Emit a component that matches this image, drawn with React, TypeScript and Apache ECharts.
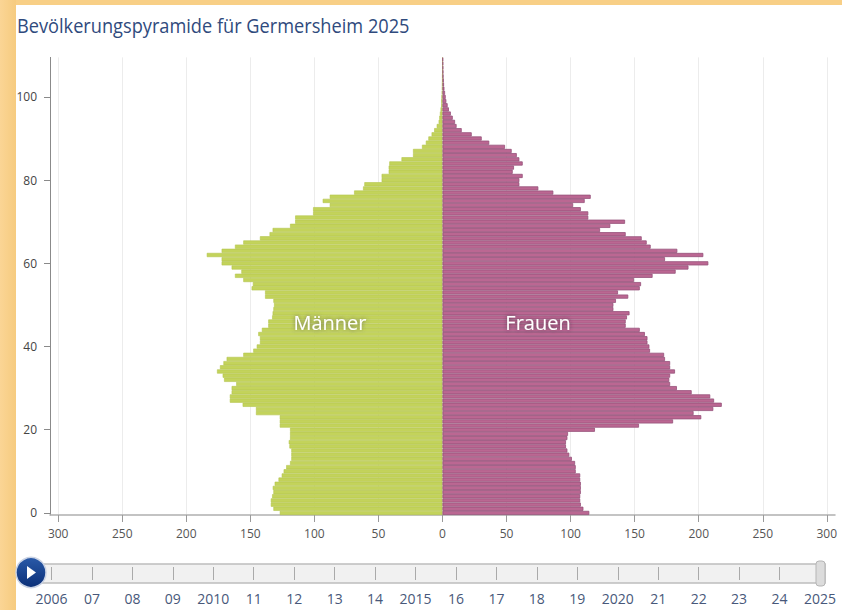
import React, { useEffect, useRef } from "react";
import * as echarts from "echarts";

const title = "Bevölkerungspyramide für Germersheim 2025";
const years = ["2006","07","08","09","2010","11","12","13","14","2015","16","17","18","19","2020","21","22","23","24","2025"];
const xTicks = [-300,-250,-200,-150,-100,-50,0,50,100,150,200,250,300];

// Ages 0..109
const men = [127,132,134,134,133,132,132.5,131,128,125.5,124,122,119,118,118,118,119.5,120,119,119,
  119,127,127,127,145.6,145.6,156,166,166,164.6,164.6,161,170.5,171.6,176,173.7,171,168.5,155.5,147.7,
  145,142.5,142.5,143.8,141,136,136,133,132.6,132,131.5,132,138.5,138.5,149,148,155.5,162,157,164.6,
  172.4,172.4,184,172.4,162,155.5,142.5,135,132.6,119,115,115,101,101,88,93.5,88,69,62,61,
  47.5,47.5,42,42,41.5,32,23,23,16,13,11,8.5,6.5,4.5,3,2.5,2,1.5,1,1,
  0.8,0.5,0.3,0.2,0.1,0.1,0,0,0,0];
const women = [114.6,110,108,107.5,107.5,108,108,108,107.5,107.5,104,104,103.5,101,99,97.5,96.4,96.4,97.5,98,
  119,153.4,180,202,196,211.4,218,212,209,194.5,183,177.7,177,177.7,181.5,177.7,177.7,173.7,173,162,
  161.5,160,160,158,154,143,143,144,146,133.4,133.4,135.4,145,137,154,155,149.5,164,182,192,
  207.5,173.7,203.6,183.3,162.5,159.4,155.5,143,123,131,142.5,113.8,113.8,108,102,111,115.7,86.5,74.8,60,
  60,62.6,54.8,55.8,62.6,60,58,54,48.8,36.5,30.6,22.8,15,11,9.8,8,6.5,5,4,3,
  2.5,2,1.5,1.2,1,0.8,0.7,0.6,0.5,0.4];
const ages = men.map((_, i) => String(i));

const axisText = "#555";
const tickLine = "#9a9a9a";

export default function App() {
  const ref = useRef<HTMLDivElement>(null);
  useEffect(() => {
    const chart = echarts.init(ref.current!, null, { renderer: "svg" });
    chart.setOption({
      animation: false,
      backgroundColor: "#ffffff",
      grid: [
        { left: 50, top: 57.4, width: 785, height: 457.6 },
        { left: 51.5, top: 566, width: 768.5, height: 14 },
      ],
      xAxis: [
        {
          type: "value", gridIndex: 0, min: -306.4, max: 306.4,
          axisLine: { show: true, onZero: false, lineStyle: { color: "#b0b0b0", width: 1.5 } },
          axisTick: { show: true, length: 7, customValues: xTicks, lineStyle: { color: tickLine } },
          axisLabel: {
            customValues: xTicks, margin: 12, color: axisText, fontFamily: "Open Sans", fontSize: 12,
            formatter: (v: number) => String(Math.abs(v)),
          },
          splitLine: { show: true, lineStyle: { color: "#ececec", width: 1 } },
        },
        {
          type: "category", gridIndex: 1, data: years, boundaryGap: false, position: "bottom",
          axisLine: { show: false },
          axisTick: { show: true, inside: true, length: 13, interval: 0, lineStyle: { color: "#aaa" } },
          axisLabel: { interval: 0, margin: 11, color: "#48587a", fontFamily: "Open Sans", fontSize: 14, hideOverlap: false },
          splitLine: { show: false },
        },
      ],
      yAxis: [
        {
          type: "category", gridIndex: 0, data: ages,
          axisLine: { show: true, onZero: false, lineStyle: { color: "#8a8a8a", width: 1 } },
          axisTick: { show: true, length: 6, alignWithLabel: true, interval: 19, lineStyle: { color: "#8a8a8a" } },
          axisLabel: { interval: 19, margin: 13, color: "#444", fontFamily: "Open Sans", fontSize: 12 },
          splitLine: { show: false },
        },
        { type: "value", gridIndex: 1, show: false },
      ],
      series: [
        {
          name: "Männer", type: "bar", data: men.map((v) => -v), barGap: "-100%", barCategoryGap: "0%",
          itemStyle: { color: "#c3d35b", borderColor: "#b4c54e", borderWidth: 0.6 },
        },
        {
          name: "Frauen", type: "bar", data: women, barGap: "-100%", barCategoryGap: "0%",
          itemStyle: { color: "#bb6792", borderColor: "#95507a", borderWidth: 0.8 },
        },
      ],
      graphic: [
        { type: "rect", silent: true, z: -10, shape: { x: 0, y: 0, width: 842, height: 5 }, style: { fill: "#f8cf86" } },
        {
          type: "rect", silent: true, z: -10, shape: { x: 0, y: 0, width: 16, height: 610 },
          style: { fill: new echarts.graphic.LinearGradient(0, 0, 1, 0, [
            { offset: 0, color: "#fbd595" }, { offset: 1, color: "#f6cb7f" },
          ]) },
        },
        { type: "text", x: 17, y: 16, scaleX: 0.91, z: 10, style: { text: title, fill: "#2f4a7d", fontFamily: "Open Sans", fontSize: 20 } },
        { type: "text", x: 330, y: 322, z: 10, style: { text: "Männer", align: "center", verticalAlign: "middle", fill: "#fff", fontFamily: "Open Sans", fontSize: 20, textShadowColor: "rgba(80,80,80,0.75)", textShadowBlur: 4 } },
        { type: "text", x: 538, y: 322, z: 10, style: { text: "Frauen", align: "center", verticalAlign: "middle", fill: "#fff", fontFamily: "Open Sans", fontSize: 20, textShadowColor: "rgba(70,40,60,0.75)", textShadowBlur: 4 } },
        { type: "rect", z: -1, silent: true, shape: { x: 40, y: 564, width: 785, height: 19 }, style: { fill: "#f1f1f1", stroke: "#bdbdbd", lineWidth: 1.5 } },
        { type: "rect", z: 10, silent: true, shape: { x: 816, y: 561, width: 9, height: 25, r: 3 }, style: { fill: "#dcdcdc", stroke: "#b5b5b5", lineWidth: 1 } },
        {
          type: "circle", z: 10, silent: true, shape: { cx: 31, cy: 572.5, r: 15 },
          style: {
            fill: new echarts.graphic.LinearGradient(0, 0, 0, 1, [
              { offset: 0, color: "#2a5aa8" }, { offset: 1, color: "#0b2f78" },
            ]),
            stroke: "#c9d2e4", lineWidth: 1.5,
          },
        },
        { type: "polygon", z: 11, silent: true, shape: { points: [[27, 566], [27, 579], [36, 572.5]] }, style: { fill: "#ffffff" } },
      ],
    });
    return () => chart.dispose();
  }, []);
  return <div ref={ref} style={{ position: "fixed", left: 0, top: 0, width: 842, height: 610 }} />;
}
